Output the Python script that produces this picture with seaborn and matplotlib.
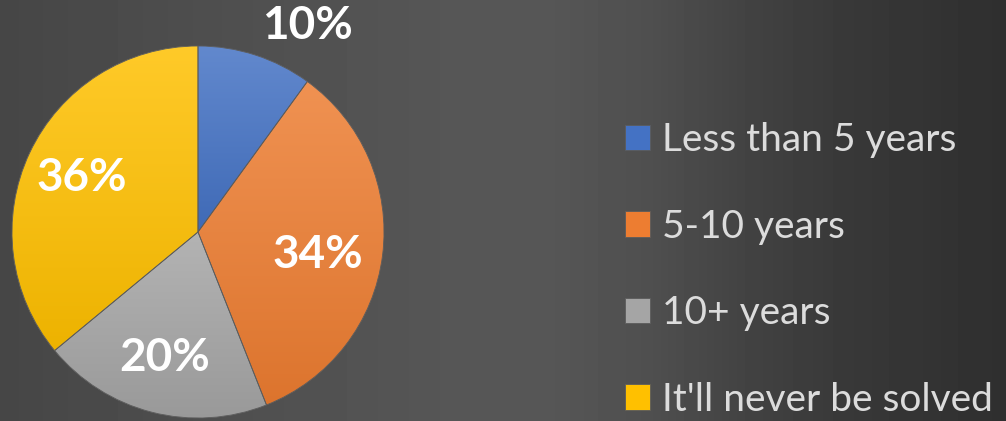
import numpy as np
import matplotlib
matplotlib.use('Agg')
import matplotlib.pyplot as plt
import matplotlib.colors as mcolors
from matplotlib.patches import PathPatch
import seaborn as sns

# data
categories = ['Less than 5 years', '5-10 years', '10+ years', "It'll never be solved"]
shares = [10, 34, 20, 36]
slice_colors = ['#4472C4', '#ED7D31', '#A5A5A5', '#FFC000']

# where the percent labels sit (pie units, radius = 1)
label_pos = [(0.59, 1.11), (0.645, -0.124), (-0.177, -0.677), (-0.624, 0.29)]

sns.set_style('white')
plt.rcParams['font.family'] = ['Lato', 'DejaVu Sans']

W, H = 1006, 421
fig = plt.figure(figsize=(W / 100, H / 100), dpi=100)

# dark gray backdrop, lightest a bit left of the middle
bg = fig.add_axes([0, 0, 1, 1])
gx = [0, 200, 450, 550, 650, 750, 850, 1006]
gv = [70, 78, 86, 86, 79, 66, 56, 47]
row = np.interp(np.arange(W), gx, gv) / 255.0
img = np.tile(row, (H, 1))
bg.imshow(img, cmap='gray', vmin=0, vmax=1, aspect='auto', extent=(0, W, 0, H))
bg.set_axis_off()

# pie
ax = fig.add_axes([12 / W, 3 / H, 372 / W, 372 / H])
wedges, _, autotexts = ax.pie(
    shares, colors=slice_colors, startangle=90, counterclock=False,
    autopct=lambda p: f'{p:.0f}%',
    wedgeprops=dict(linewidth=0.6, edgecolor='#5c5c5c'),
    textprops=dict(color='white', fontsize=33, fontweight='bold'),
)
ax.set_aspect('equal')
ax.set_axis_off()

# vertical shading inside each slice, lighter at the top
for w, c in zip(wedges, slice_colors):
    base = np.array(mcolors.to_rgb(c))
    top = base + (1 - base) * 0.16
    bot = base * 0.93
    ext = w.get_path().get_extents()
    t = np.linspace(0, 1, 256)[:, None]
    grad = top[None, :] * (1 - t) + bot[None, :] * t
    grad = np.repeat(grad[:, None, :], 2, axis=1)
    im = ax.imshow(grad, extent=(ext.x0, ext.x1, ext.y0, ext.y1),
                   aspect='auto', zorder=w.get_zorder() + 0.1, interpolation='bilinear')
    im.set_clip_path(w)
    ax.add_patch(PathPatch(w.get_path(), facecolor='none', edgecolor='#5c5c5c',
                           linewidth=0.6, zorder=w.get_zorder() + 0.2))
ax.set_xlim(-1, 1)
ax.set_ylim(-1, 1)

for t, (x, y) in zip(autotexts, label_pos):
    t.set_position((x, y))
    t.set_ha('center')
    t.set_va('center')
    t.set_zorder(10)
    t.set_clip_on(False)

leg = fig.legend(wedges, categories, loc='center left',
                 bbox_to_anchor=(625 / W, 1 - 270 / H),
                 frameon=False, fontsize=28, labelcolor='#dcdcdc',
                 handlelength=0.64, handleheight=0.64, handletextpad=0.3,
                 labelspacing=1.3, borderpad=0, borderaxespad=0)

fig.savefig('out.png', dpi=100)
